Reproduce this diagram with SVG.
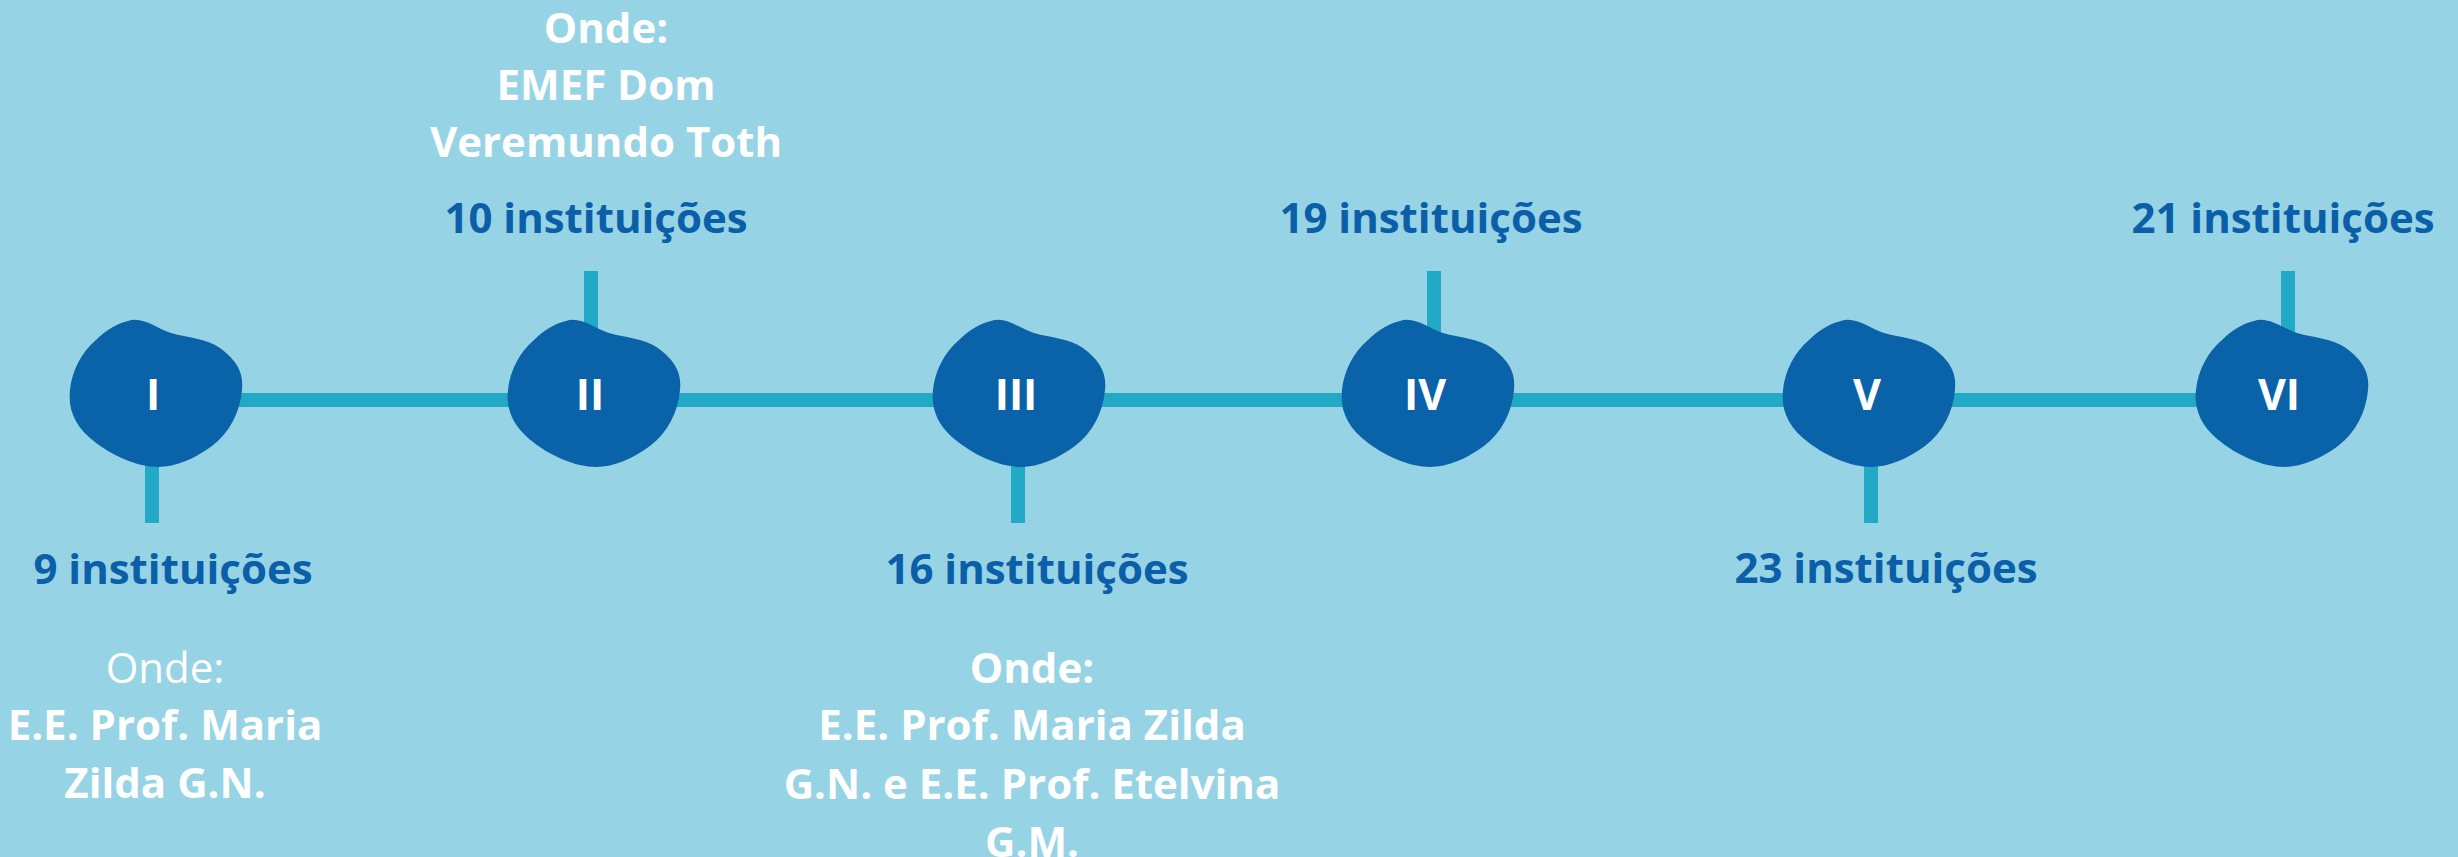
<svg xmlns="http://www.w3.org/2000/svg" width="2458" height="857" viewBox="0 0 2458 857">
<style>
.bg{fill:#96d3e5}
.blob{fill:#0a62a8}
.conn{stroke:#22a9c6;stroke-width:14;fill:none}
.num{font-family:"Open Sans",sans-serif;font-weight:700;font-size:43px;fill:#ffffff;text-anchor:middle}
.cnt{font-family:"Open Sans",sans-serif;font-weight:700;font-size:42px;fill:#0b5ea8;text-anchor:middle}
.onde{font-family:"Open Sans",sans-serif;font-weight:700;font-size:42px;fill:#ffffff;text-anchor:middle}
.reg{font-weight:400}
</style>
<defs>
<path id="blobShape" d="M -28,-73 C -14,-78 0,-66 15,-61 C 32,-56 50,-56 64,-46 C 80,-34 88,-22 86,-4 C 84,18 74,38 56,52 C 40,64 20,73 2,73 C -18,73 -45,62 -66,44 C -82,30 -88,14 -86,-4 C -84,-24 -74,-42 -60,-54 C -50,-64 -40,-70 -28,-73 Z"/>
</defs>
<rect class="bg" x="0" y="0" width="2458" height="857"/>
<g id="connectors">
<line class="conn" x1="156" y1="400" x2="2282" y2="400"/>
<line class="conn" x1="152" y1="440" x2="152" y2="523"/>
<line class="conn" x1="591" y1="271" x2="591" y2="345"/>
<line class="conn" x1="1018" y1="440" x2="1018" y2="523"/>
<line class="conn" x1="1434" y1="271" x2="1434" y2="345"/>
<line class="conn" x1="1871" y1="440" x2="1871" y2="523"/>
<line class="conn" x1="2288" y1="271" x2="2288" y2="345"/>
</g>
<g id="node-I">
<use href="#blobShape" class="blob" transform="translate(156,394)"/>
<text class="num" x="153" y="410">I</text>
<text class="cnt" x="173" y="584">9 instituições</text>
<text class="onde reg" x="165" y="683">Onde:</text>
<text class="onde" x="165" y="740">E.E. Prof. Maria</text>
<text class="onde" x="165" y="798">Zilda G.N.</text>
</g>
<g id="node-II">
<use href="#blobShape" class="blob" transform="translate(594,394)"/>
<text class="num" x="590" y="410">II</text>
<text class="cnt" x="596" y="233">10 instituições</text>
<text class="onde" x="606" y="43">Onde:</text>
<text class="onde" x="606" y="100">EMEF Dom</text>
<text class="onde" x="606" y="157">Veremundo Toth</text>
</g>
<g id="node-III">
<use href="#blobShape" class="blob" transform="translate(1019,394)"/>
<text class="num" x="1016" y="410">III</text>
<text class="cnt" x="1037" y="584">16 instituições</text>
<text class="onde" x="1032" y="683">Onde:</text>
<text class="onde" x="1032" y="740">E.E. Prof. Maria Zilda</text>
<text class="onde" x="1032" y="799">G.N. e E.E. Prof. Etelvina</text>
<text class="onde" x="1032" y="857">G.M.</text>
</g>
<g id="node-IV">
<use href="#blobShape" class="blob" transform="translate(1428,394)"/>
<text class="num" x="1425" y="410">IV</text>
<text class="cnt" x="1431" y="233">19 instituições</text>
</g>
<g id="node-V">
<use href="#blobShape" class="blob" transform="translate(1869,394)"/>
<text class="num" x="1867" y="410">V</text>
<text class="cnt" x="1886" y="583">23 instituições</text>
</g>
<g id="node-VI">
<use href="#blobShape" class="blob" transform="translate(2282,394)"/>
<text class="num" x="2279" y="410">VI</text>
<text class="cnt" x="2283" y="233">21 instituições</text>
</g>
</svg>
